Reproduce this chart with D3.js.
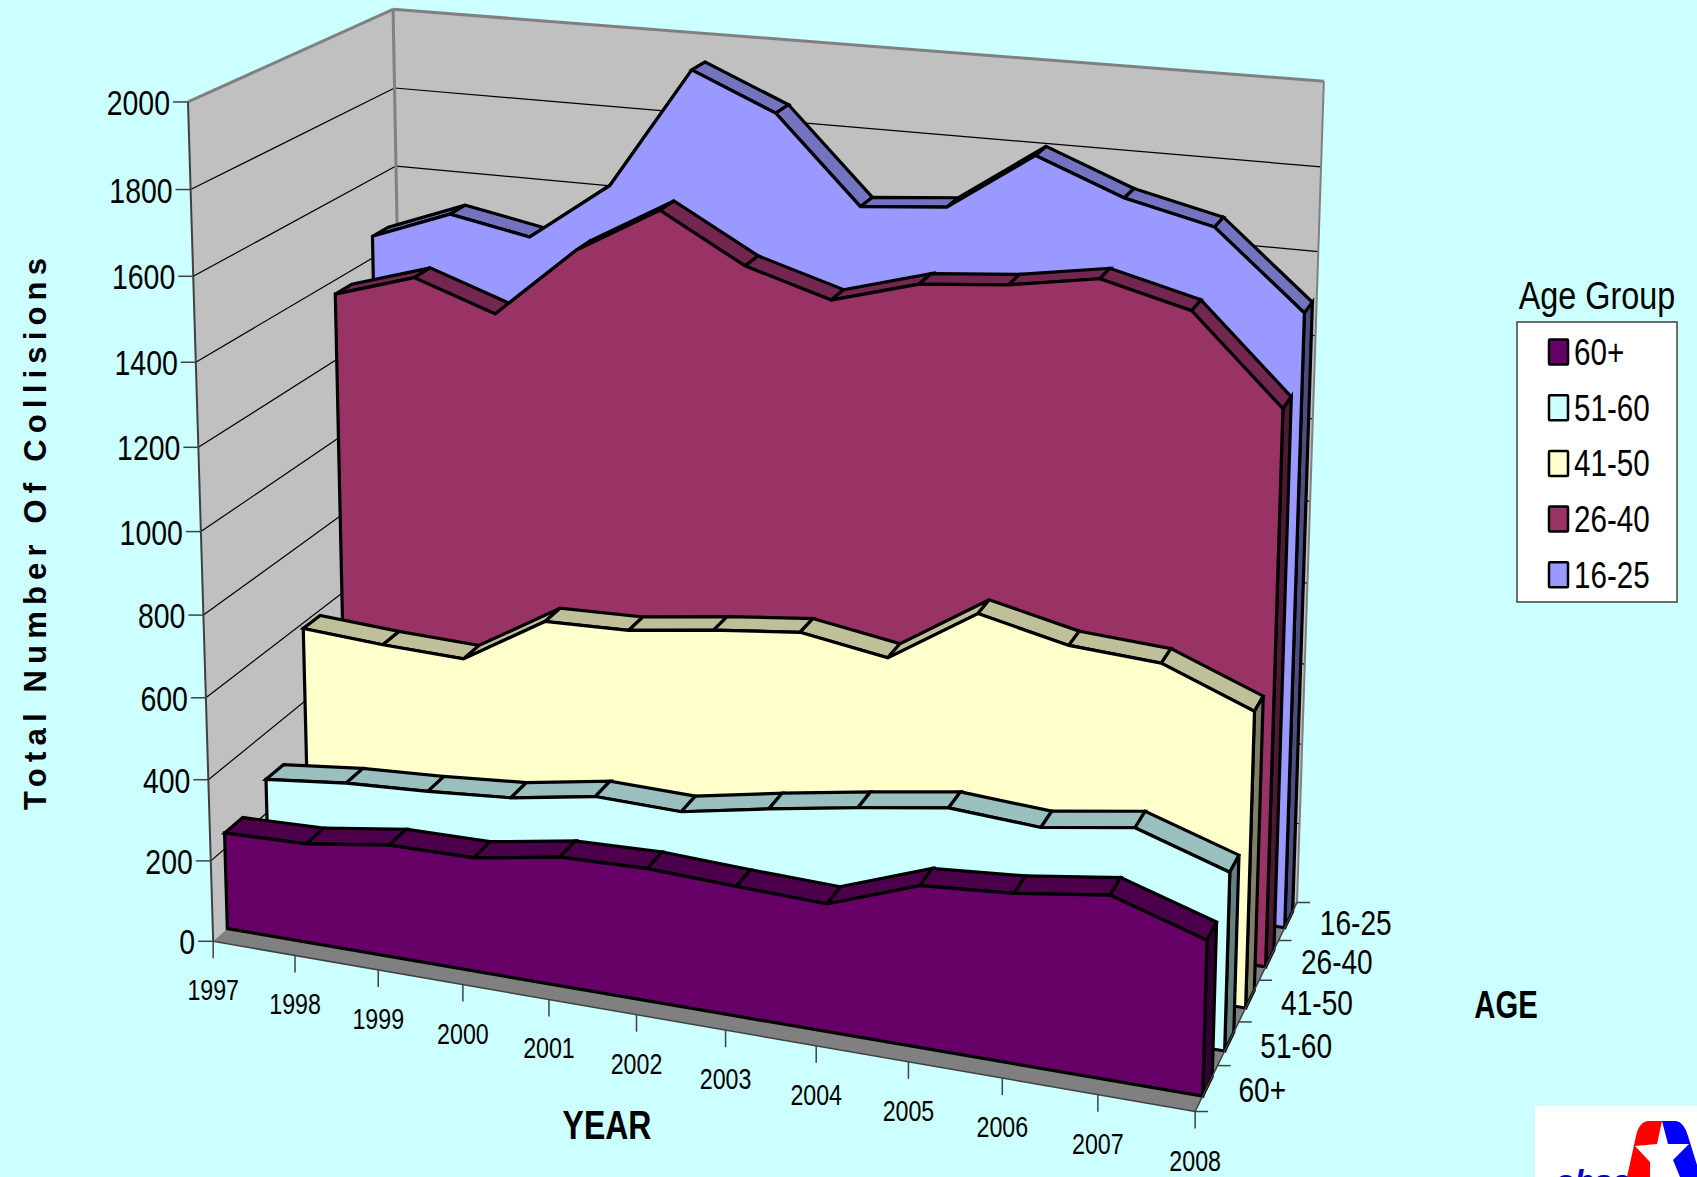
<!DOCTYPE html>
<html><head><meta charset="utf-8"><script src="https://cdn.jsdelivr.net/npm/d3@7"></script>
<style>html,body{margin:0;padding:0;background:#CCFFFF}svg{display:block}text{font-family:"Liberation Sans",Arial,sans-serif;fill:#000}</style></head>
<body><script>
const years=[1997,1998,1999,2000,2001,2002,2003,2004,2005,2006,2007,2008];
const groups=["60+","51-60","41-50","26-40","16-25"];
const s60=[239,245,275,277,312,318,309,302,379,395,425,357];
const s51=[285,307,318,334,369,364,403,438,470,456,488,418];
const s41=[586,573,566,688,694,723,746,713,847,800,787,704];
const s26=[1365,1427,1358,1536,1652,1538,1477,1536,1555,1590,1537,1333];
const s16=[1455,1531,1493,1641,1942,1854,1646,1664,1806,1724,1675,1494];
const seriesValues=[s60,s51,s41,s26,s16];
const faceColors=["#660066","#CCFFFF","#FFFFCC","#993366","#9999FF"];
const topColors=["#4C004C","#99BFBF","#BFBF99","#732650","#7373BF"];
const sideColors=["#330033","#668080","#808066","#4D1A33","#4D4D80"];
const yTicks=[0,200,400,600,800,1000,1200,1400,1600,1800,2000];

const W=1697,H=1177,k=1697/1568;
const svg=d3.select("body").append("svg").attr("width",W).attr("height",H);
svg.append("rect").attr("width",W).attr("height",H).attr("fill","#CCFFFF");

// camera calibration: cube corners (x,y,z in 0..1) → picture position
const calib=[
 [0,0,0,197,869],[1,0,0,1105,1027],[1,0,1,1198,834],[0,1,0,173,95],
 [0,1,1,364,8],[1,1,1,1223,75],[0,0,1,376,709]
];
function solve(A,b){const n=b.length;const M=A.map((r,i)=>[...r,b[i]]);
 for(let c=0;c<n;c++){let p=c;for(let r=c+1;r<n;r++)if(Math.abs(M[r][c])>Math.abs(M[p][c]))p=r;
  [M[c],M[p]]=[M[p],M[c]];
  for(let r=0;r<n;r++)if(r!==c){const f=M[r][c]/M[c][c];for(let j=c;j<=n;j++)M[r][j]-=f*M[c][j];}}
 return M.map((r,i)=>r[n]/r[i]);}
const rows=[],rhs=[];
calib.forEach(([x,y,z,u0,v0])=>{const u=u0*k,v=v0*k;
 rows.push([x,y,z,1,0,0,0,0,-u*x,-u*y,-u*z]);rhs.push(u);
 rows.push([0,0,0,0,x,y,z,1,-v*x,-v*y,-v*z]);rhs.push(v);});
const AtA=d3.range(11).map(i=>d3.range(11).map(j=>d3.sum(rows,r=>r[i]*r[j])));
const Atb=d3.range(11).map(i=>d3.sum(rows,(r,q)=>r[i]*rhs[q]));
const P=solve(AtA,Atb);
const proj=(x,y,z)=>{const w=P[8]*x+P[9]*y+P[10]*z+1;
 return [(P[0]*x+P[1]*y+P[2]*z+P[3])/w,(P[4]*x+P[5]*y+P[6]*z+P[7])/w];};

const xS=d3.scaleLinear().domain([1997,2008]).range([0,1]);
const yS=d3.scaleLinear().domain([0,2000]).range([0,1]);
const zS=d3.scaleLinear().domain([0,groups.length]).range([0,1]);
const FRONT=0.33,BACK=0.76;
const pt=(year,val,zc)=>proj(xS(year),yS(val),zS(zc));
const line=d3.line();
const poly=(pts,fill,stroke,sw)=>svg.append("path").attr("d",line(pts)+"Z").attr("fill",fill)
  .attr("stroke",stroke||"none").attr("stroke-width",sw||0).attr("stroke-linejoin","miter");
const seg=(a,b,stroke,sw)=>svg.append("path").attr("d",line([a,b])).attr("fill","none").attr("stroke",stroke).attr("stroke-width",sw);

// walls and floor
const Y0=years[0],Y1=years[11],D=groups.length,Vmax=2000;
poly([pt(Y0,0,0),pt(Y0,Vmax,0),pt(Y0,Vmax,D),pt(Y0,0,D)],"#C0C0C0");
poly([pt(Y0,0,D),pt(Y0,Vmax,D),pt(Y1,Vmax,D),pt(Y1,0,D)],"#C0C0C0");
poly([pt(Y0,0,0),pt(Y1,0,0),pt(Y1,0,D),pt(Y0,0,D)],"#808080");
yTicks.forEach(v=>{ if(v===0||v===Vmax) return;
  seg(pt(Y0,v,0),pt(Y0,v,D),"#000",1.2); seg(pt(Y0,v,D),pt(Y1,v,D),"#000",1.2);});
seg(pt(Y0,Vmax,0),pt(Y0,Vmax,D),"#808080",3);
seg(pt(Y0,Vmax,D),pt(Y1,Vmax,D),"#808080",3);
seg(pt(Y0,Vmax,D),pt(Y0,0,D),"#808080",3);
seg(pt(Y1,Vmax,D),pt(Y1,0,D),"#808080",2);

// series ribbons, back to front
d3.range(groups.length-1,-1,-1).forEach(i=>{
  const vals=seriesValues[i],zf=i+FRONT,zb=i+BACK;
  d3.pairs(years.map((y,j)=>[y,vals[j]])).forEach(([a,b])=>{
    poly([pt(a[0],a[1],zf),pt(b[0],b[1],zf),pt(b[0],b[1],zb),pt(a[0],a[1],zb)],topColors[i],"#000",3.2);
  });
  const last=vals[vals.length-1];
  poly([pt(Y1,0,zf),pt(Y1,0,zb),pt(Y1,last,zb),pt(Y1,last,zf)],sideColors[i],"#000",3.2);
  const face=[pt(Y0,0,zf),...years.map((y,j)=>pt(y,vals[j],zf)),pt(Y1,0,zf)];
  poly(face,faceColors[i],"#000",3.2);
});

// value axis
seg(pt(Y0,0,0),pt(Y0,Vmax,0),"#404040",2);
yTicks.forEach(v=>{const p=pt(Y0,v,0);seg([p[0]-15,p[1]],p,"#404040",1.5);
  svg.append("text").attr("transform",`translate(${p[0]-18},${p[1]+13}) scale(.79,1)`)
   .attr("text-anchor","end").attr("font-size",36).text(v);});
// year axis
seg(pt(Y0,0,0),pt(Y1,0,0),"#404040",1.5);
years.forEach(y=>{const p=pt(y,0,0);seg(p,[p[0],p[1]+17],"#404040",1.5);
  svg.append("text").attr("transform",`translate(${p[0]},${p[1]+59}) scale(.8,1)`)
   .attr("text-anchor","middle").attr("font-size",29).text(y);});
// depth axis
seg(pt(Y1,0,0),pt(Y1,0,D),"#404040",1.5);
d3.range(0,D+1).forEach(c=>{const p=pt(Y1,0,c);seg(p,[p[0]+13,p[1]],"#404040",1.5);});
groups.forEach((g,c)=>{const p=pt(Y1,0,c+0.5);
  svg.append("text").attr("transform",`translate(${p[0]+32},${p[1]+14}) scale(.78,1)`)
   .attr("font-size",36).text(g);});

// axis titles
svg.append("text").attr("transform","translate(46,534) rotate(-90)").attr("text-anchor","middle")
  .attr("font-size",31).attr("font-weight","bold").attr("textLength",552).attr("lengthAdjust","spacing").text("Total Number Of Collisions");
svg.append("text").attr("transform","translate(607,1139) scale(.8,1)").attr("text-anchor","middle")
  .attr("font-size",40).attr("font-weight","bold").text("YEAR");
svg.append("text").attr("transform","translate(1506,1018) scale(.77,1)").attr("text-anchor","middle")
  .attr("font-size",38).attr("font-weight","bold").text("AGE");

// legend
svg.append("text").attr("transform","translate(1597,309) scale(.83,1)").attr("text-anchor","middle").attr("font-size",39).text("Age Group");
svg.append("rect").attr("x",1517).attr("y",322).attr("width",160).attr("height",280).attr("fill","#fff").attr("stroke","#404040").attr("stroke-width",1.5);
groups.forEach((g,i)=>{const cy=352+i*55.7;
  svg.append("rect").attr("x",1549).attr("y",cy-12.5).attr("width",19).attr("height",25).attr("rx",1).attr("fill",faceColors[i]).attr("stroke","#000").attr("stroke-width",2.5);
  svg.append("text").attr("transform",`translate(1574,${cy+13}) scale(.8,1)`).attr("font-size",37).text(g);
});

// logo, cut off by the page edge
const logo=svg.append("g");
logo.append("rect").attr("x",1535).attr("y",1106).attr("width",162).attr("height",71).attr("fill","#fff");
logo.append("path").attr("d","M1662,1121 L1648,1121 Q1639,1122 1636,1136 L1627,1177 L1662,1177Z").attr("fill","#FF0000");
logo.append("path").attr("d","M1662,1121 L1676,1121 Q1684,1122 1688,1136 L1697,1165 L1697,1177 L1662,1177Z").attr("fill","#0000FF");
logo.append("path").attr("d","M1662,1121 L1668,1144 L1689,1144 L1673,1160 L1680,1177 L1650,1177 L1650,1162 L1635,1146 L1657,1144Z").attr("fill","#fff");
logo.append("text").attr("x",1555).attr("y",1192).attr("font-size",32).attr("font-weight","bold").attr("font-style","italic").style("fill","#0000CC").text("ohsa");
</script></body></html>
